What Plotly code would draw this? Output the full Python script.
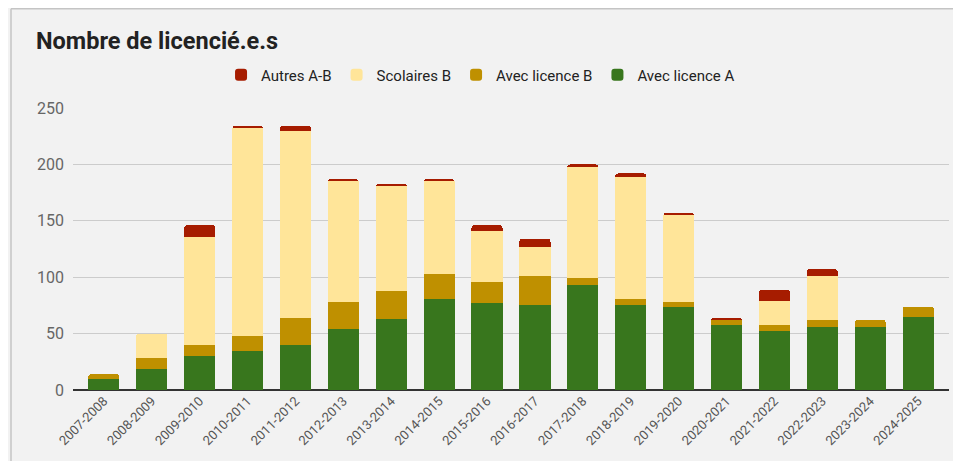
import plotly.graph_objects as go

saisons = ["2007-2008", "2008-2009", "2009-2010", "2010-2011", "2011-2012", "2012-2013",
           "2013-2014", "2014-2015", "2015-2016", "2016-2017", "2017-2018", "2018-2019",
           "2019-2020", "2020-2021", "2021-2022", "2022-2023", "2023-2024", "2024-2025"]

avec_licence_a = [10, 19, 30, 35, 40, 54, 63, 81, 77, 75, 93, 75, 74, 58, 52, 56, 56, 65]
avec_licence_b = [4, 9, 10, 13, 24, 24, 25, 22, 19, 26, 6, 6, 4, 4, 6, 6, 6, 9]
scolaires_b = [0, 22, 96, 184, 166, 107, 93, 82, 45, 26, 99, 108, 78, 0, 21, 39, 0, 0]
autres_ab = [0, 0, 10, 2, 4, 2, 2, 2, 5, 7, 2, 3, 1, 2, 10, 6, 0, 0]

series = [
    ("Avec licence A", avec_licence_a, "#38761d"),
    ("Avec licence B", avec_licence_b, "#bf9000"),
    ("Scolaires B", scolaires_b, "#ffe599"),
    ("Autres A-B", autres_ab, "#a61c00"),
]

FONT = "Roboto, Arial, sans-serif"

fig = go.Figure()
for name, vals, col in series:
    fig.add_trace(go.Bar(x=saisons, y=vals, name=name, marker_color=col,
                         marker_line_width=0, hoverinfo="x+y+name"))

# page has an 8px body margin; keep the figure inside the window to avoid scrollbars
W, H = 945, 453
L, R, T, B = 65, 4, 100, 71
pw = W - L - R
ph = H - T - B

def px(x):
    return (x - L) / pw

def py(y):
    return (H - B - y) / ph

border = dict(color="#c4c4c4", width=1.5)
fig.add_shape(type="line", xref="paper", yref="paper", x0=px(3), x1=px(W + 5),
              y0=py(0.75), y1=py(0.75), line=border, layer="below")
fig.add_shape(type="line", xref="paper", yref="paper", x0=px(3), x1=px(3),
              y0=py(0.75), y1=py(H + 5), line=border, layer="below")

fig.update_layout(
    width=W, height=H,
    margin=dict(l=L, r=R, t=T, b=B),
    paper_bgcolor="#f2f2f2",
    plot_bgcolor="#f2f2f2",
    barmode="stack",
    bargap=0.35,
    barcornerradius=3,
    font=dict(family=FONT, color="#444"),
    title=dict(text="<b>Nombre de licencié.e.s</b>", x=28 / W, xref="container", xanchor="left",
               y=1 - 33 / H, yref="container", yanchor="middle",
               font=dict(family=FONT, size=23.5, color="#222")),
    legend=dict(orientation="h", traceorder="reversed", x=0.169, xanchor="left",
                y=1 + (T - 67) / ph, yanchor="middle",
                font=dict(family=FONT, size=15, color="#222"), bgcolor="rgba(0,0,0,0)"),
    showlegend=True,
    xaxis=dict(type="category", range=[-0.645, 17.645], tickangle=-45, showgrid=False,
               tickfont=dict(family=FONT, size=13, color="#555"), ticks="", showline=False,
               fixedrange=True),
    yaxis=dict(range=[0, 250], tickvals=[0, 50, 100, 150, 200, 250], gridcolor="#cccccc",
               gridwidth=1, zeroline=True, zerolinecolor="#333333", zerolinewidth=1.5,
               tickfont=dict(family=FONT, size=16, color="#666"), ticks="",
               ticklabelstandoff=8, fixedrange=True),
)

fig.write_html("out.html")
